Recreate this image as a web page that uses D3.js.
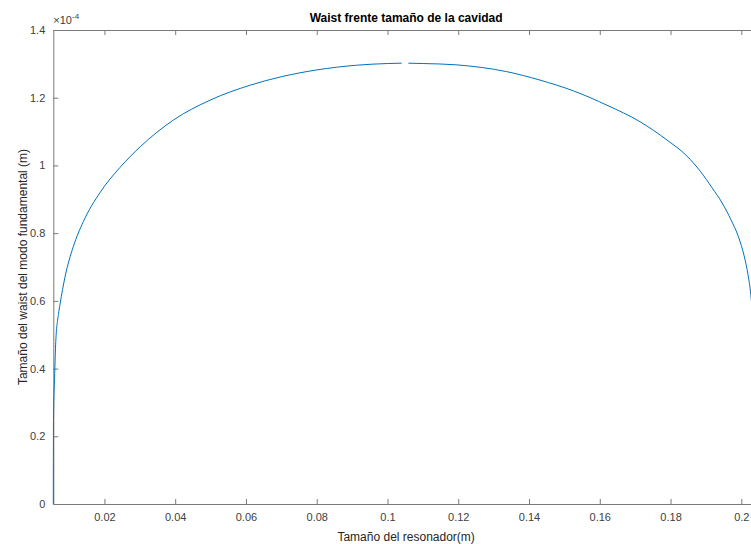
<!DOCTYPE html>
<html>
<head>
<meta charset="utf-8">
<script src="https://cdn.jsdelivr.net/npm/d3@7"></script>
<style>
  body { margin: 0; background: #fff; }
  svg { display: block; font-family: "Liberation Sans", Arial, Helvetica, sans-serif; }
  .axis path, .axis line { stroke: #7a7a7a; }
  .axis text { fill: #404040; font-size: 11px; }
</style>
</head>
<body>
<svg width="751" height="544"></svg>
<script>
// cavity length (m)
var lengths = [0.00555, 0.00557, 0.00560, 0.00590, 0.00625, 0.00700, 0.00745, 0.00887,
    0.0112, 0.01404, 0.01876, 0.0244, 0.0301, 0.0395, 0.0499, 0.0612, 0.0700, 0.0800,
    0.0913, 0.1000, 0.1040, 0.1050, 0.1059, 0.1100, 0.1196, 0.1337, 0.1431, 0.1526,
    0.1620, 0.1714, 0.1790, 0.1846, 0.1884, 0.1918, 0.1946, 0.1971, 0.1992, 0.2008,
    0.2019, 0.2027, 0.2029];
// waist (x 1e-4 m), null = gap in the curve
var waists = [0, 0.12, 0.25, 0.37, 0.48, 0.56, 0.59, 0.671,
    0.760, 0.834, 0.920, 0.994, 1.055, 1.134, 1.193, 1.237, 1.262, 1.282,
    1.296, 1.301, 1.302, null, 1.302, 1.301, 1.297, 1.277, 1.252, 1.220,
    1.178, 1.129, 1.075, 1.028, 0.983, 0.933, 0.889, 0.839, 0.789, 0.733,
    0.677, 0.617, 0.595];
var xTicks = [0.02, 0.04, 0.06, 0.08, 0.1, 0.12, 0.14, 0.16, 0.18, 0.2];
var yTicks = [0, 0.2, 0.4, 0.6, 0.8, 1, 1.2, 1.4];
var xDomain = [0.00555, 0.205];
var yDomain = [0, 1.4];

var data = lengths.map(function(d, i) {
    return {x: d, y: waists[i]};
});

var svg = d3.select("svg"),
    margin = {top: 30, left: 53.3},
    width = 759 - margin.left,
    height = 504 - margin.top,
    g = svg.append("g").attr("transform", "translate(" + margin.left + "," + margin.top + ")");

var x = d3.scaleLinear().domain(xDomain).range([0, width]);
var y = d3.scaleLinear().domain(yDomain).range([height, 0]);

var fmt = d3.format("~g");

// top axis (box)
g.append("g")
    .attr("class", "axis")
    .call(d3.axisTop(x).tickValues(xTicks).tickSize(-5).tickSizeOuter(0).tickFormat(""));

// bottom axis
g.append("g")
    .attr("class", "axis")
    .attr("transform", "translate(0," + height + ")")
    .call(d3.axisBottom(x).tickValues(xTicks).tickSize(-5).tickSizeOuter(0).tickPadding(9).tickFormat(fmt));

// left axis
g.append("g")
    .attr("class", "axis")
    .call(d3.axisLeft(y).tickValues(yTicks).tickSize(-5).tickSizeOuter(0).tickPadding(8).tickFormat(fmt));

// the curve
var line = d3.line()
    .defined(function(d) { return d.y !== null; })
    .curve(d3.curveMonotoneX)
    .x(function(d) { return x(d.x); })
    .y(function(d) { return y(d.y); });

g.append("path")
    .datum(data)
    .attr("fill", "none")
    .attr("stroke", "#0072BD")
    .attr("stroke-width", 1)
    .attr("d", line);

// exponent label
var ex = svg.append("text")
    .attr("x", margin.left)
    .attr("y", 24)
    .attr("fill", "#404040")
    .style("font-size", "11px");
ex.append("tspan").text("\u00d710");
ex.append("tspan").attr("dy", -5).style("font-size", "8px").text("-4");

// title
svg.append("text")
    .attr("x", margin.left + width / 2)
    .attr("y", 22)
    .attr("text-anchor", "middle")
    .attr("fill", "#000")
    .style("font-size", "12px")
    .style("font-weight", "bold")
    .text("Waist frente tamaño de la cavidad");

// x label
svg.append("text")
    .attr("x", margin.left + width / 2)
    .attr("y", 541)
    .attr("text-anchor", "middle")
    .attr("fill", "#262626")
    .style("font-size", "12px")
    .text("Tamaño del resonador(m)");

// y label
svg.append("text")
    .attr("transform", "translate(27," + (margin.top + height / 2) + ") rotate(-90)")
    .attr("text-anchor", "middle")
    .attr("fill", "#262626")
    .style("font-size", "12px")
    .text("Tamaño del waist del modo fundamental (m)");
</script>
</body>
</html>
